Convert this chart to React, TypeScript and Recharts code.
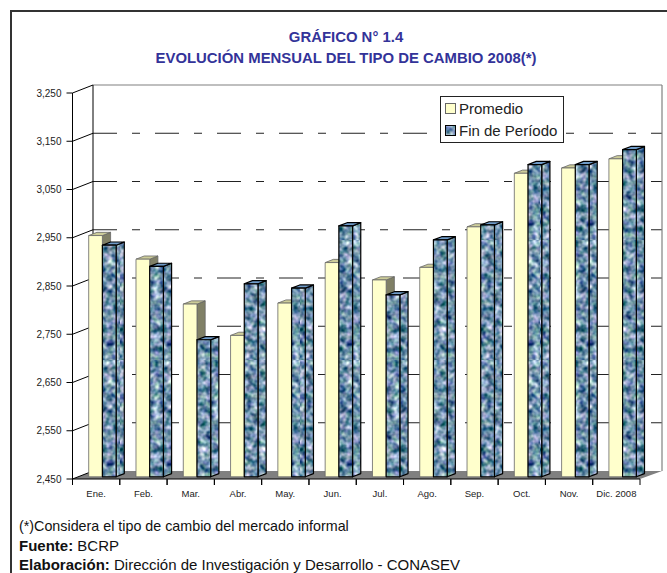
import { BarChart, Bar, XAxis, YAxis, CartesianGrid, Legend } from "recharts";

const MONTHS = ["Ene.", "Feb.", "Mar.", "Abr.", "May.", "Jun.", "Jul.", "Ago.", "Sep.", "Oct.", "Nov.", "Dic. 2008"];
const PROMEDIO = [2950, 2901, 2808, 2743, 2810, 2894, 2858, 2884, 2968, 3079, 3090, 3109];
const FIN_PERIODO = [2930, 2886, 2734, 2850, 2841, 2970, 2827, 2941, 2972, 3097, 3097, 3128];
const Y_TICKS = [2450, 2550, 2650, 2750, 2850, 2950, 3050, 3150, 3250];

const chartData = MONTHS.map((month, i) => ({ month, promedio: PROMEDIO[i], fin: FIN_PERIODO[i] }));

const FONT = "'Liberation Sans', Arial, sans-serif";
const PLOT_LEFT = 72.5;
const PLOT_RIGHT = 640;
const PLOT_TOP = 93;
const PLOT_BOTTOM = 479;
const BAND = (PLOT_RIGHT - PLOT_LEFT) / MONTHS.length;

// the fake 3D box: back wall offset, and where the bars sit inside it
const WALL_DX = 20.5;
const WALL_DY = -8;
const BAR_DX = 6.2;
const BAR_DY = -2.2;
const SIDE_DX = 8.2;
const SIDE_DY = -3.2;

function Bar3D(props: any) {
  const { x, y, width, height, front, top, side, edge, edgeWidth } = props;
  const l = x + BAR_DX;
  const t = y + BAR_DY;
  const r = l + width;
  const b = t + height;
  const common = { stroke: edge, strokeWidth: edgeWidth, strokeLinejoin: "round" as const };
  return (
    <g>
      <polygon
        points={`${r},${t} ${r + SIDE_DX},${t + SIDE_DY} ${r + SIDE_DX},${b + SIDE_DY} ${r},${b}`}
        fill={side}
        {...common}
      />
      <polygon
        points={`${l},${t} ${l + SIDE_DX},${t + SIDE_DY} ${r + SIDE_DX},${t + SIDE_DY} ${r},${t}`}
        fill={top}
        {...common}
      />
      <rect x={l} y={t} width={width} height={height} fill={front} {...common} />
    </g>
  );
}

function WallLine(props: any) {
  const { y1, index } = props;
  const by = y1 + WALL_DY;
  const backX = PLOT_LEFT + WALL_DX;
  const wallRight = PLOT_RIGHT + WALL_DX + 1.5;
  const isFloor = Math.abs(y1 - PLOT_BOTTOM) < 1;
  const isTop = Math.abs(y1 - PLOT_TOP) < 1;
  return (
    <g key={index}>
      {isFloor && (
        <polygon
          points={`${PLOT_LEFT},${PLOT_BOTTOM} ${PLOT_RIGHT},${PLOT_BOTTOM} ${wallRight},${by} ${backX},${by}`}
          fill="#808080"
        />
      )}
      {isTop && (
        <>
          <line x1={backX} y1={by} x2={wallRight} y2={by} stroke="#808080" strokeWidth={1.2} />
          <line x1={wallRight} y1={by} x2={wallRight} y2={PLOT_BOTTOM + WALL_DY} stroke="#808080" strokeWidth={1.2} />
          <line x1={backX} y1={by} x2={backX} y2={PLOT_BOTTOM + WALL_DY} stroke="#000" />
        </>
      )}
      <line x1={PLOT_LEFT} y1={y1} x2={backX} y2={by} stroke="#000" />
      {!isFloor && !isTop && (
        <line x1={backX} y1={by} x2={wallRight} y2={by} stroke="#222" strokeDasharray="24 15 8 15" />
      )}
    </g>
  );
}

function MonthTick(props: any) {
  const { x, y, payload } = props;
  return (
    <g>
      <line x1={x - BAND / 2} y1={y} x2={x - BAND / 2} y2={y + 6} stroke="#000" />
      <line x1={x + BAND / 2} y1={y} x2={x + BAND / 2} y2={y + 6} stroke="#000" />
      <text x={x} y={y + 18} textAnchor="middle" fontSize={9.5} fontFamily={FONT} fill="#222">
        {payload.value}
      </text>
    </g>
  );
}

function LegendBox() {
  const rows = [
    { label: "Promedio", fill: "#FFFFCC", stroke: "#666" },
    { label: "Fin de Período", fill: "url(#mottled)", stroke: "#000" },
  ];
  return (
    <div
      style={{
        width: 122,
        height: 45,
        border: "1px solid #222",
        background: "#fff",
        fontFamily: FONT,
        fontSize: 15,
        color: "#222",
        boxSizing: "content-box",
      }}
    >
      {rows.map((row) => (
        <div key={row.label} style={{ display: "flex", alignItems: "center", height: 22.5, whiteSpace: "nowrap" }}>
          <svg width={11} height={11} style={{ marginLeft: 4, marginRight: 3, flex: "none" }}>
            <rect x={0.5} y={0.5} width={10} height={10} fill={row.fill} stroke={row.stroke} />
          </svg>
          {row.label}
        </div>
      ))}
    </div>
  );
}

const footStyle = { position: "absolute" as const, left: 19, fontFamily: FONT, fontSize: 14.3, color: "#111", whiteSpace: "nowrap" as const };
const titleStyle = {
  position: "absolute" as const,
  left: 26,
  width: 640,
  textAlign: "center" as const,
  fontFamily: FONT,
  fontSize: 14.9,
  fontWeight: 700,
  color: "#333399",
};

export default function App() {
  return (
    <div style={{ position: "absolute", left: 0, top: 0, width: 667, height: 573, overflow: "hidden", background: "#fff" }}>
      <div style={{ position: "absolute", left: 10, top: 10, width: 700, height: 600, border: "2px solid #333" }} />
      <div style={{ ...titleStyle, top: 29 }}>GRÁFICO N° 1.4</div>
      <div style={{ ...titleStyle, top: 50 }}>EVOLUCIÓN MENSUAL DEL TIPO DE CAMBIO 2008(*)</div>
      <div style={{ position: "absolute", left: 0, top: 0 }}>
        <BarChart
          width={667}
          height={573}
          data={chartData}
          margin={{ top: PLOT_TOP, right: 667 - PLOT_RIGHT, bottom: 573 - PLOT_BOTTOM - 30, left: PLOT_LEFT - 60 }}
          barSize={13.7}
          barGap={0}
        >
          <defs>
            <filter id="mottle" x="0" y="0" width="100%" height="100%" colorInterpolationFilters="sRGB">
              <feTurbulence type="fractalNoise" baseFrequency="0.15" numOctaves={2} seed={7} />
              <feColorMatrix
                type="matrix"
                values="1.5 0 0 0 -0.31  1.2 0.3 0 0 -0.18  1 0 0.25 0 0.05  0 0 0 0 1"
              />
            </filter>
            <pattern id="mottled" patternUnits="userSpaceOnUse" width={60} height={120}>
              <rect width={60} height={120} fill="#6f8fb5" filter="url(#mottle)" />
            </pattern>
          </defs>
          <CartesianGrid vertical={false} horizontal={(p: any) => <WallLine {...p} />} />
          <XAxis
            dataKey="month"
            interval={0}
            height={30}
            stroke="#000"
            tickLine={false}
            tickSize={0}
            tickMargin={0}
            tick={<MonthTick />}
          />
          <YAxis
            width={60}
            domain={[2450, 3250]}
            ticks={Y_TICKS}
            interval={0}
            stroke="#000"
            tickSize={6}
            tickMargin={5}
            tick={{ fontSize: 10, fontFamily: FONT, fill: "#222" }}
            tickFormatter={(v: number) => v.toLocaleString("en-US")}
          />
          <Legend
            layout="vertical"
            align="center"
            verticalAlign="middle"
            content={<LegendBox />}
            wrapperStyle={{ left: 440, top: 96, width: 124, bottom: "auto" }}
          />
          <Bar
            dataKey="promedio"
            name="Promedio"
            isAnimationActive={false}
            shape={<Bar3D front="#FFFFCC" top="#CCCC99" side="#808066" edge="#666" edgeWidth={0.8} />}
          />
          <Bar
            dataKey="fin"
            name="Fin de Período"
            isAnimationActive={false}
            shape={<Bar3D front="url(#mottled)" top="#6F9BC8" side="url(#mottled)" edge="#000" edgeWidth={1.2} />}
          />
        </BarChart>
      </div>
      <div style={{ ...footStyle, top: 518 }}>(*)Considera el tipo de cambio del mercado informal</div>
      <div style={{ ...footStyle, top: 537, fontSize: 15 }}>
        <b>Fuente:</b> BCRP
      </div>
      <div style={{ ...footStyle, top: 556, fontSize: 15 }}>
        <b>Elaboración:</b> Dirección de Investigación y Desarrollo - CONASEV
      </div>
    </div>
  );
}
